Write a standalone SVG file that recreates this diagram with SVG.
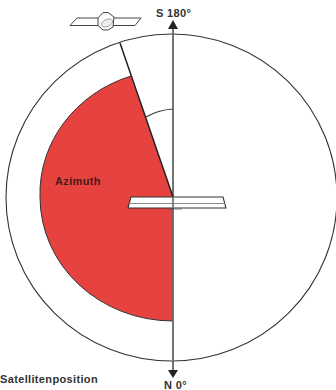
<svg xmlns="http://www.w3.org/2000/svg" width="336" height="390" viewBox="0 0 336 390">
<style>
.l{font-family:"Liberation Sans",Arial,sans-serif;font-weight:700;font-size:11px;letter-spacing:.35px;fill:#333}
.o{fill:none;stroke:#333;stroke-width:1.100}
</style>
<rect width="336" height="390" fill="#fff"/>
<g id="dish-circle"><ellipse class="o" cx="171.500" cy="197.500" rx="165.500" ry="163.500"/></g>
<g id="azimuth-sector">
<path d="M173 197L131 76A133 124 0 0 0 40 197A133 124 0 0 0 173 321Z" fill="#e64340"/>
<path d="M131 76A133 124 0 0 0 40 197A133 124 0 0 0 173 321" fill="none" stroke="#333" stroke-width="1"/>
<text class="l" x="55" y="185" style="fill:#4a1a1a">Azimuth</text>
</g>
<g id="connectors">
<line x1="173" y1="27" x2="173" y2="371" stroke="#666" stroke-width="1.800"/>
<polygon points="173,20 178,29 168,29" fill="#222"/>
<polygon points="173,378 178,370 168,370" fill="#222"/>
<line x1="173" y1="197" x2="120" y2="43" stroke="#222" stroke-width="1.500"/>
<path class="o" d="M146 117Q158 110 173 109"/>
</g>
<g id="receiver">
<path d="M131 197H223L226 208H128Z" fill="#fff" stroke="#333" stroke-width="1.100"/>
<line x1="129" y1="203.500" x2="225" y2="203.500" stroke="#888" stroke-width="1"/>
<line x1="173" y1="197" x2="173" y2="208" stroke="#777" stroke-width="1.800"/>
<line x1="167" y1="209" x2="182" y2="209" stroke="#555" stroke-width="0.800"/>
</g>
<g id="satellite">
<path d="M70 25.500L77 18H141L135 25.500Z" fill="#fff" stroke="#444" stroke-width="1"/>
<path d="M98 18L103 12.500H108L114 17L113 27L108 30H103L98 25.500Z" fill="#fff" stroke="#444" stroke-width="1"/>
<ellipse cx="107" cy="23" rx="6" ry="3.500" transform="rotate(-25 107 23)" fill="#eee" stroke="#999" stroke-width="0.800"/>
</g>
<g id="labels">
<text class="l" x="156" y="17">S 180°</text>
<text class="l" x="164" y="388.500">N 0°</text>
<text class="l" x="0" y="383">Satellitenposition</text>
</g>
</svg>
